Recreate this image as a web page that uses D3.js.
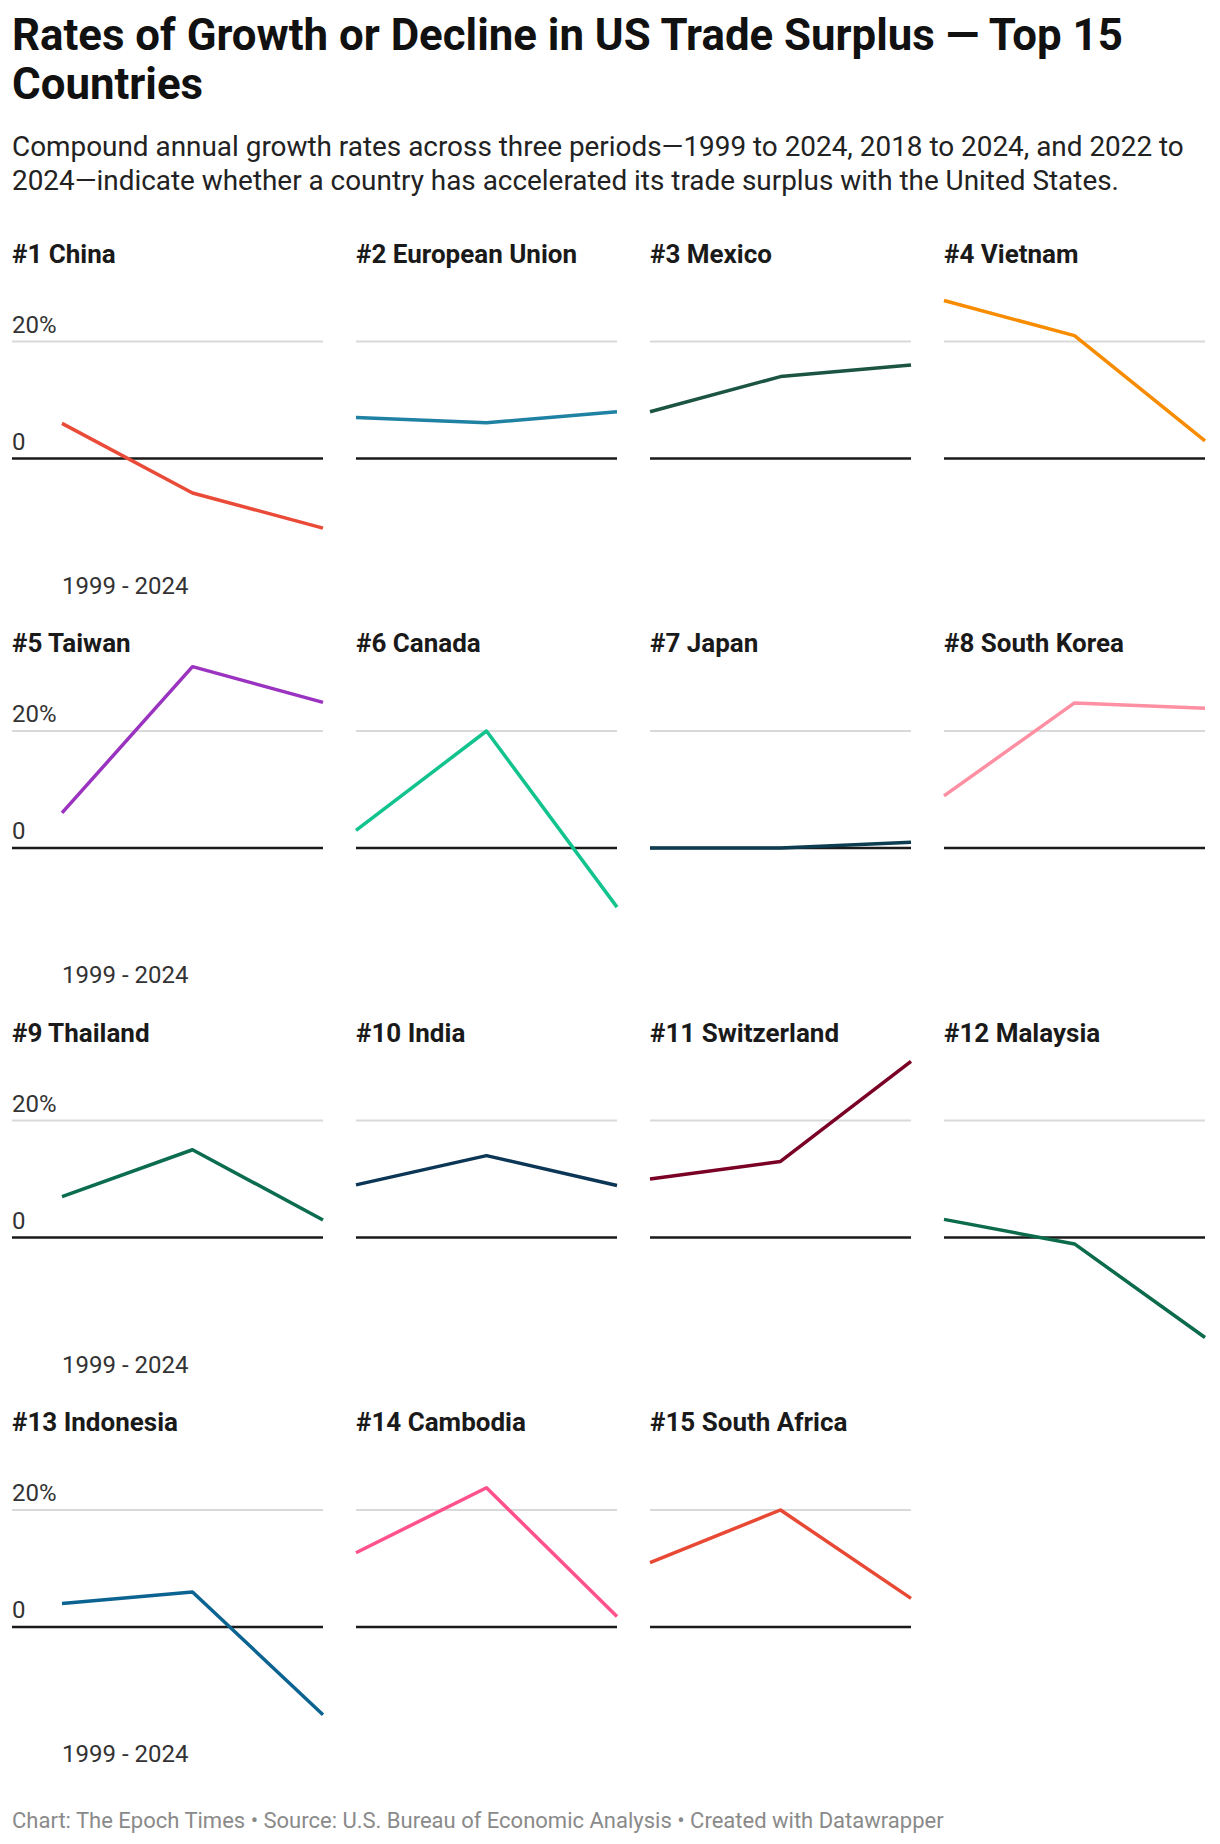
<!DOCTYPE html>
<html>
<head>
<meta charset="utf-8">
<script src="https://cdn.jsdelivr.net/npm/d3@7"></script>
<style>
  body { margin: 0; background: #fff; font-family: Roboto, "Noto Sans", sans-serif; }
</style>
</head>
<body>
<div id="chart"></div>
<script>
// CAGR of US trade deficit (their surplus) by country, three periods
const periods = ["1999 - 2024", "2018 - 2024", "2022 - 2024"];
const countries = ["#1 China", "#2 European Union", "#3 Mexico", "#4 Vietnam",
  "#5 Taiwan", "#6 Canada", "#7 Japan", "#8 South Korea",
  "#9 Thailand", "#10 India", "#11 Switzerland", "#12 Malaysia",
  "#13 Indonesia", "#14 Cambodia", "#15 South Africa"];
const cagr1999 = [6.0, 7.0, 8.0, 27.0, 6.0, 3.0, 0.0, 8.9, 7.0, 9.0, 10.0, 3.1, 4.0, 12.7, 11.0];
const cagr2018 = [-5.9, 6.1, 14.0, 21.0, 31.0, 20.0, 0.0, 24.8, 15.0, 14.0, 13.0, -1.1, 6.0, 23.8, 20.0];
const cagr2022 = [-11.9, 8.0, 16.0, 3.0, 24.9, -10.1, 1.0, 23.9, 3.0, 8.9, 30.1, -17.1, -15.0, 1.8, 4.9];
const yTicks = [0, 20];

const colors = ["#ea4b38", "#1f82a3", "#1c5443", "#f88c00", "#9a33bf", "#12c38e", "#0c3d50", "#ff8fa2",
  "#0b6c50", "#0c3655", "#7b0026", "#0b6b4c", "#0b6391", "#ff528c", "#e84935"];

const W = 1220, H = 1844;
const svg = d3.select("#chart").append("svg").attr("width", W).attr("height", H);

// header
const title = svg.append("text").attr("x", 12).attr("y", 50)
  .attr("font-size", 43.8).attr("font-weight", 700).attr("fill", "#111");
title.append("tspan").attr("x", 12).text("Rates of Growth or Decline in US Trade Surplus \u2014 Top 15");
title.append("tspan").attr("x", 12).attr("dy", 49).text("Countries");

const sub = svg.append("text").attr("x", 12).attr("y", 156)
  .attr("font-size", 27.9).attr("fill", "#222");
sub.append("tspan").attr("x", 12).text("Compound annual growth rates across three periods\u20141999 to 2024, 2018 to 2024, and 2022 to");
sub.append("tspan").attr("x", 12).attr("dy", 34).text("2024\u2014indicate whether a country has accelerated its trade surplus with the United States.");

// small multiples
const plotW = 261, colStep = 294, rowStep = 389.5, left0 = 62, top0 = 202.5;
const x = d3.scalePoint().domain(periods).range([0, plotW]);
const y = d3.scaleLinear().domain([0, 20]).range([256, 139]);

const line = d3.line().x(d => x(d.period)).y(d => y(d.value));

countries.forEach((name, i) => {
  const col = i % 4, row = Math.floor(i / 4);
  const g = svg.append("g")
    .attr("transform", `translate(${left0 + col * colStep},${top0 + row * rowStep})`);
  const gx0 = col === 0 ? -50 : 0;

  g.append("text").attr("x", col === 0 ? -50 : 0).attr("y", 60)
    .attr("font-size", 26).attr("font-weight", 700).attr("fill", "#1a1a1a").text(name);

  g.selectAll("line.grid").data(yTicks).join("line")
    .attr("x1", gx0).attr("x2", plotW)
    .attr("y1", d => y(d)).attr("y2", d => y(d))
    .attr("stroke", d => d === 0 ? "#1a1a1a" : "#d9d9d9")
    .attr("stroke-width", d => d === 0 ? 2.5 : 2);

  if (col === 0) {
    g.selectAll("text.tick").data(yTicks).join("text")
      .attr("x", -50).attr("y", d => y(d) - 9)
      .attr("font-size", 24).attr("fill", "#333")
      .text(d => d === 0 ? "0" : d + "%");
    g.append("text").attr("x", x(periods[0])).attr("y", 391)
      .attr("font-size", 24).attr("fill", "#333").text(periods[0]);
  }

  const pts = periods.map((p, k) => ({ period: p, value: [cagr1999, cagr2018, cagr2022][k][i] }));
  g.append("path").datum(pts).attr("d", line)
    .attr("fill", "none").attr("stroke", colors[i]).attr("stroke-width", 3.5)
    .attr("stroke-linejoin", "round");
});

svg.append("text").attr("x", 12).attr("y", 1828)
  .attr("font-size", 22).attr("fill", "#8a8a8a")
  .text("Chart: The Epoch Times \u2022 Source: U.S. Bureau of Economic Analysis \u2022 Created with Datawrapper");
</script>
</body>
</html>
